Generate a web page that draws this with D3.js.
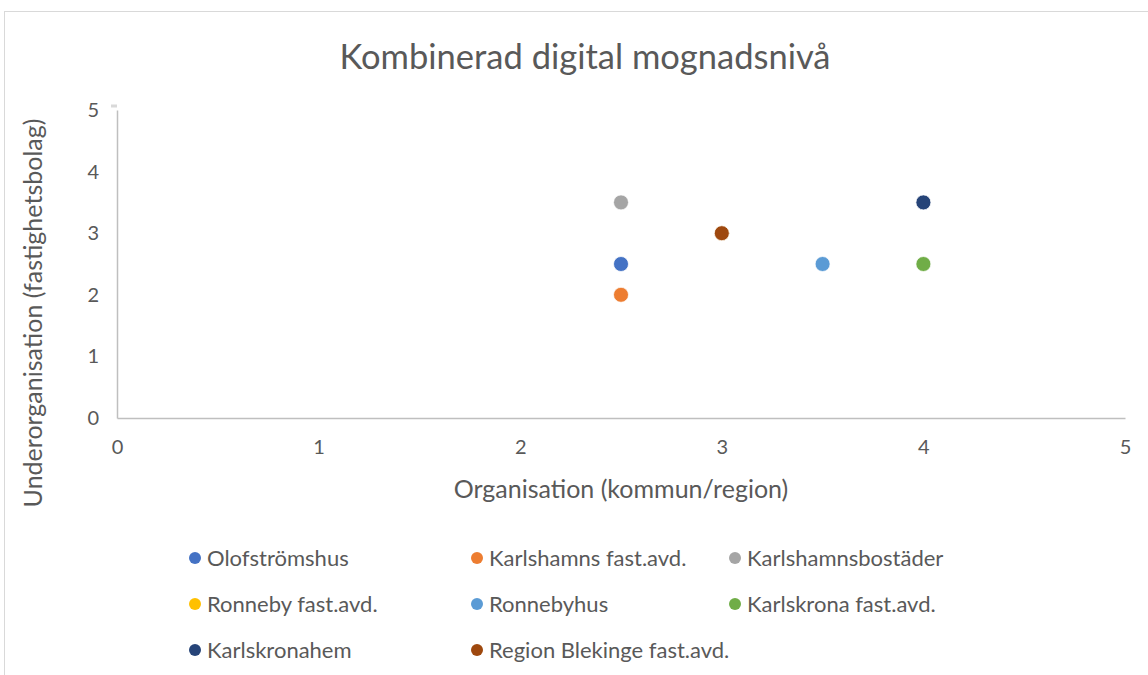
<!DOCTYPE html>
<html>
<head>
<meta charset="utf-8">
<script src="https://cdn.jsdelivr.net/npm/d3@7"></script>
<style>
  body { margin: 0; background: #fff; }
  text { font-family: Lato, "Open Sans", sans-serif; fill: #595959; }
</style>
</head>
<body>
<div id="chart"></div>
<script>
// series names, colours and values (x = organisation, y = underorganisation)
const seriesNames = ["Olofströmshus", "Karlshamns fast.avd.", "Karlshamnsbostäder",
  "Ronneby fast.avd.", "Ronnebyhus", "Karlskrona fast.avd.",
  "Karlskronahem", "Region Blekinge fast.avd."];
const seriesColors = ["#4472C4", "#ED7D31", "#A5A5A5", "#FFC000",
  "#5B9BD5", "#70AD47", "#264478", "#9E480E"];
const xValues = [2.5, 2.5, 2.5, 3, 3.5, 4, 4, 3];
const yValues = [2.5, 2, 3.5, 3, 2.5, 2.5, 3.5, 3];
const ticks = [0, 1, 2, 3, 4, 5];

const width = 1148, height = 675;
const margin = {top: 110, right: 23, bottom: 257, left: 117};

const svg = d3.create('svg')
  .attr('width', width)
  .attr('height', height);

// chart border (runs off the right and bottom edge)
svg.append('rect')
  .attr('x', 4.5).attr('y', 11.5)
  .attr('width', width + 10).attr('height', height + 10)
  .attr('fill', 'none')
  .attr('stroke', '#d9d9d9');

const x = d3.scaleLinear().domain([0, 5]).range([margin.left, width - margin.right]);
const y = d3.scaleLinear().domain([0, 5]).range([height - margin.bottom, margin.top]);

// title
svg.append('text')
  .attr('x', 585).attr('y', 69)
  .attr('text-anchor', 'middle')
  .attr('font-size', '34.5px')
  .text('Kombinerad digital mognadsnivå');

// x axis
const xAxis = svg.append('g')
  .attr('transform', `translate(0, ${y(0)})`)
  .call(d3.axisBottom(x).tickValues(ticks).tickSize(0).tickPadding(22).tickFormat(d3.format('d')));
xAxis.select('.domain').attr('stroke', '#bfbfbf').attr('stroke-width', 1.5);
xAxis.selectAll('text').attr('font-size', '20px').style('font-family', 'Lato').attr('fill', '#595959');

// y axis
const yAxis = svg.append('g')
  .attr('transform', `translate(${x(0)}, 0)`)
  .call(d3.axisLeft(y).tickValues(ticks).tickSize(0).tickPadding(18).tickFormat(d3.format('d')));
yAxis.select('.domain').attr('stroke', '#bfbfbf').attr('stroke-width', 1.5);
yAxis.selectAll('text').attr('font-size', '20px').style('font-family', 'Lato').attr('fill', '#595959');

// small stub at the top of the y axis
svg.append('line')
  .attr('x1', x(0) - 6).attr('x2', x(0))
  .attr('y1', y(5) - 4).attr('y2', y(5) - 4)
  .attr('stroke', '#d9d9d9').attr('stroke-width', 3);

// axis titles
svg.append('text')
  .attr('x', 621).attr('y', 498)
  .attr('text-anchor', 'middle')
  .attr('font-size', '25px')
  .text('Organisation (kommun/region)');

svg.append('text')
  .attr('transform', `translate(42, 313) rotate(-90)`)
  .attr('text-anchor', 'middle')
  .attr('font-size', '25px')
  .text('Underorganisation (fastighetsbolag)');

// points
const points = seriesNames.map((name, i) => ({name, color: seriesColors[i], x: xValues[i], y: yValues[i]}));
svg.append('g')
  .selectAll('circle')
  .data(points)
  .join('circle')
  .attr('cx', d => x(d.x))
  .attr('cy', d => y(d.y))
  .attr('r', 7.5)
  .attr('fill', d => d.color)
  .attr('stroke', '#fff')
  .attr('stroke-width', 0.75);

// legend, three columns
const colX = [188, 470, 728];
const rowY = [558, 604, 650];
const legend = svg.append('g')
  .selectAll('g')
  .data(points)
  .join('g')
  .attr('transform', (d, i) => `translate(${colX[i % 3]}, ${rowY[Math.floor(i / 3)]})`);
legend.append('circle')
  .attr('cx', 7).attr('cy', 0).attr('r', 6)
  .attr('fill', d => d.color);
legend.append('text')
  .attr('x', 19).attr('y', 8)
  .attr('font-size', '22px')
  .text(d => d.name);

document.getElementById('chart').appendChild(svg.node());
</script>
</body>
</html>
